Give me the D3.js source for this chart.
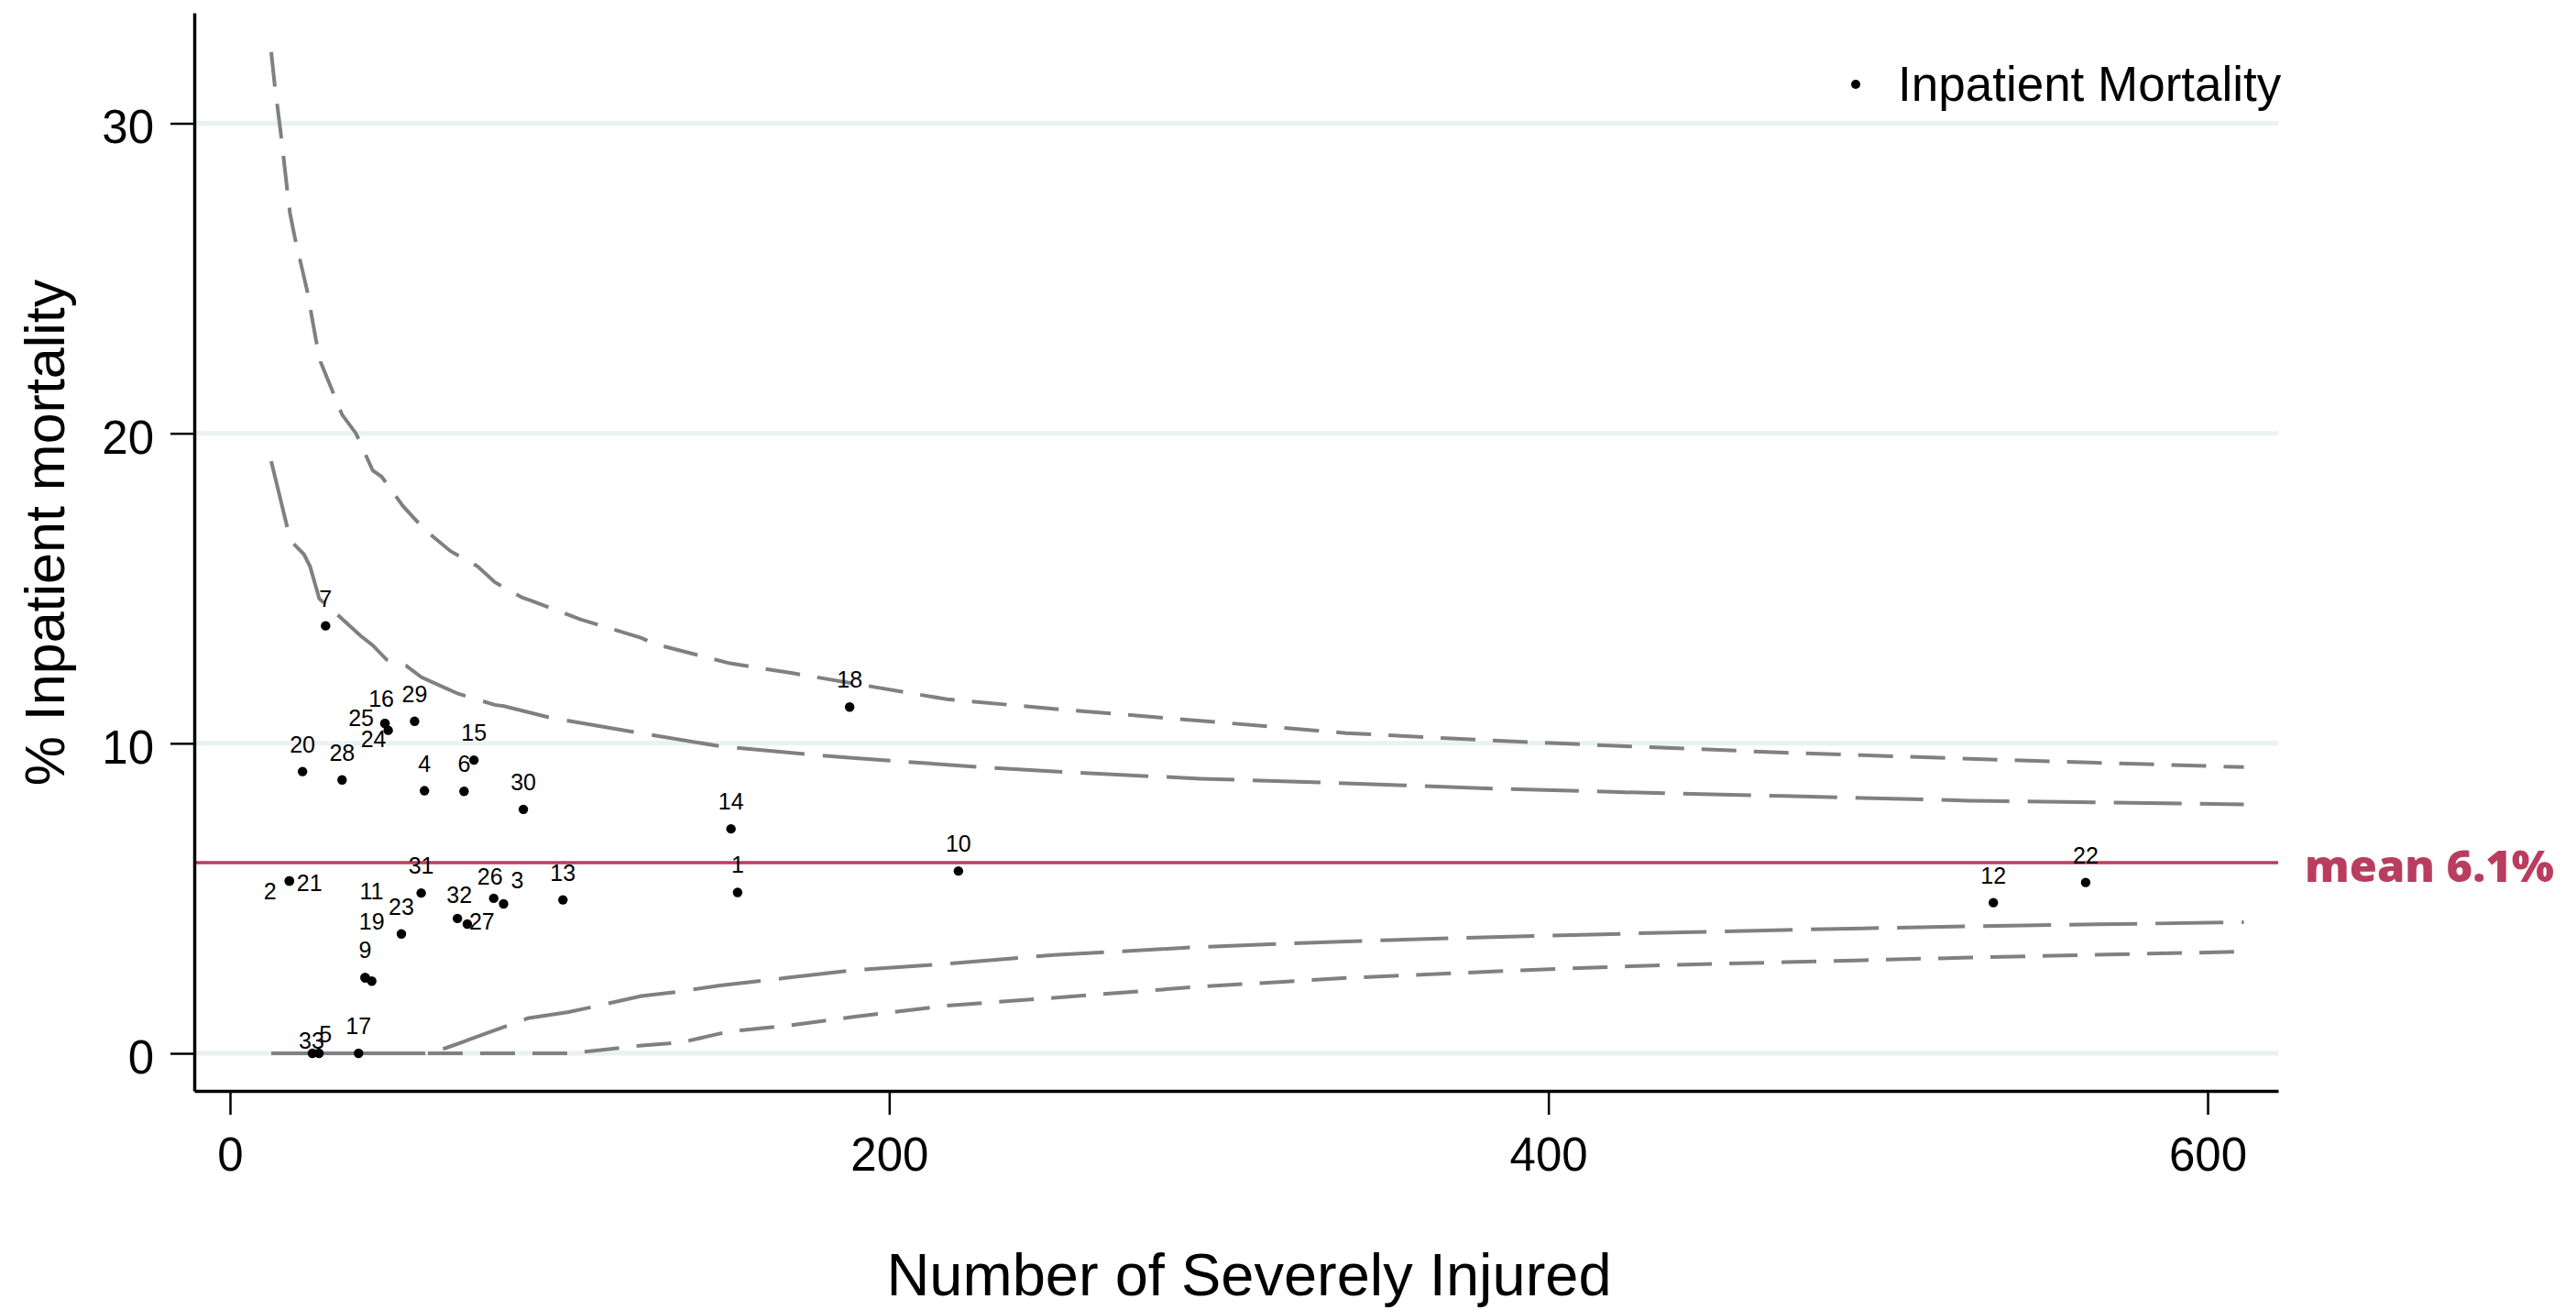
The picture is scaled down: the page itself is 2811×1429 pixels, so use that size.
<!DOCTYPE html>
<html>
<head>
<meta charset="utf-8">
<script src="https://cdn.jsdelivr.net/npm/d3@7"></script>
<style>
  html, body { margin: 0; padding: 0; background: #ffffff; }
  svg { display: block; }
</style>
</head>
<body>
<svg id="chart" width="2811" height="1429"></svg>
<script>
// ---------------- DATA ----------------
const hospitalIds = [1, 2, 3, 4, 5, 6, 7, 9, 10, 11, 12, 13, 14, 15, 16, 17,
                     18, 19, 20, 21, 22, 23, 24, 25, 26, 27, 28, 29, 30, 31, 32, 33];
const severelyInjured = [154, 18, 83, 59, 27, 71, 29, 41, 221, 41, 535, 101, 152, 74, 47, 39,
                         188, 43, 22, 18, 563, 52, 48, 47, 80, 72, 34, 56, 89, 58, 69, 25];
const mortalityPct = [5.19, 5.56, 4.82, 8.47, 0, 8.45, 13.79, 2.44, 5.88, 2.44, 4.86, 4.95, 7.24, 9.46, 10.64, 0,
                      11.17, 2.33, 9.09, 5.56, 5.51, 3.85, 10.42, 10.64, 5.00, 4.17, 8.82, 10.71, 7.87, 5.17, 4.35, 0];

const meanMortality = 6.15;
const meanLabel = "mean 6.1%";

// control limits: [number of severely injured, % mortality]
const upperOuterLimit = [[12.5,32.3],[13.6,31.2],[15.5,29.6],[17.3,27.9],[18.2,27.1],[19.7,26.3],[23.4,24.6],
  [26.1,23.0],[27.5,22.3],[34.0,20.6],[38.2,20.0],[43.3,18.8],[46.0,18.6],[52.5,17.65],[59.0,16.9],[66.9,16.2],
  [72.0,15.9],[75.2,15.7],[80.3,15.2],[88.7,14.7],[91.5,14.6],[106.3,14.0],[124.8,13.4],[129,13.2],[151.7,12.58],
  [170.2,12.27],[192.5,11.87],[217.5,11.42],[254.4,11.07],[294.3,10.73],[338.6,10.33],[382.9,10.09],[427.3,9.89],
  [471.6,9.7],[528,9.5],[611,9.23]];
const upperInnerLimit = [[12.5,19.1],[17.3,17.0],[18.7,16.5],[22.4,16.1],[24.3,15.7],[27.1,14.66],[32.1,14.2],
  [39.6,13.47],[43.3,13.16],[47.5,12.7],[53.5,12.5],[58.1,12.13],[63.7,11.86],[69.2,11.6],[80.3,11.24],[83.1,11.2],
  [97,10.83],[122.9,10.36],[148.9,9.9],[174.9,9.65],[189.7,9.52],[226.7,9.24],[249.9,9.09],[294.3,8.86],[338.6,8.71],
  [382.9,8.54],[427.3,8.41],[471.6,8.3],[528,8.15],[611,8.03]];
const lowerInnerLimit = [[12.5,0],[59.2,0],[65.5,0.17],[84.7,0.91],[90.3,1.13],[102.7,1.33],[110.2,1.5],[116.4,1.65],
  [124.8,1.85],[136.2,1.99],[148.7,2.19],[168.5,2.43],[188.9,2.68],[217.5,2.89],[249.9,3.17],[294.3,3.43],[338.6,3.61],
  [382.9,3.75],[427.3,3.87],[471.6,3.98],[528,4.1],[611,4.23]];
const lowerOuterLimit = [[12.5,0],[102.7,0],[107.7,0.05],[124.8,0.25],[133.1,0.32],[139.3,0.41],[148.7,0.64],
  [154.8,0.74],[170.4,0.91],[189.7,1.18],[217.5,1.54],[249.9,1.79],[294.3,2.15],[338.6,2.43],[382.9,2.64],
  [427.3,2.82],[471.6,2.94],[528,3.09],[611,3.28]];

const xTickValues = [0, 200, 400, 600];
const yTickValues = [0, 10, 20, 30];
const xTitle = "Number of Severely Injured";
const yTitle = "% Inpatient mortality";
const legendText = "Inpatient Mortality";

// label placement (Stata-like marker label positions), separate from data
const defaultLabelPlacement = { dx: 0, dy: -21, anchor: "middle" };
const labelPlacement = {
  25: { dx: -12, dy: 3, anchor: "end" },
  16: { dx: -4, dy: -18, anchor: "middle" },
  24: { dx: -16, dy: 18, anchor: "middle" },
  2:  { dx: -14, dy: 20, anchor: "end" },
  21: { dx: 8, dy: 11, anchor: "start" },
  11: { dx: 7, dy: -85, anchor: "middle" },
  19: { dx: 0, dy: -56, anchor: "middle" },
  32: { dx: 2, dy: -17, anchor: "middle" },
  27: { dx: 2, dy: 6, anchor: "start" },
  26: { dx: -4, dy: -15, anchor: "middle" },
  3:  { dx: 15, dy: -17, anchor: "middle" },
  33: { dx: -1, dy: -5, anchor: "middle" },
  5:  { dx: 7, dy: -12, anchor: "middle" }
};

// ---------------- LAYOUT ----------------
const plotLeft = 212, plotRight = 2486, plotTop = 14, plotBottom = 1190;
const pxPerX = (2409 - 251) / 600;
const pxPerY = (1149 - 134.5) / 30;

const x = d3.scaleLinear()
  .domain([(plotLeft - 251) / pxPerX, (plotRight - 251) / pxPerX])
  .range([plotLeft, plotRight]);
const y = d3.scaleLinear()
  .domain([(1149 - plotBottom) / pxPerY, (1149 - plotTop) / pxPerY])
  .range([plotBottom, plotTop]);

const svg = d3.select("#chart");
svg.append("rect").attr("width", 2811).attr("height", 1429).attr("fill", "#ffffff");

const baseFont = "'Liberation Sans', Arial, Helvetica, sans-serif";
const narrowFont = "'Liberation Sans Narrow', 'Arial Narrow', 'Liberation Sans', Arial, sans-serif";

// gridlines
svg.append("g").selectAll("line").data(yTickValues).join("line")
  .attr("x1", plotLeft).attr("x2", plotRight)
  .attr("y1", d => y(d)).attr("y2", d => y(d))
  .attr("stroke", "#eaf1f3").attr("stroke-width", 5);

// control limit curves
const line = d3.line().x(d => x(d[0])).y(d => y(d[1]));
const curves = [
  { data: upperOuterLimit, dash: "38,19" },
  { data: upperInnerLimit, dash: "74,20" },
  { data: lowerInnerLimit, dash: "74,20" },
  { data: lowerOuterLimit, dash: "38,19" }
];
svg.append("g").selectAll("path").data(curves).join("path")
  .attr("d", d => line(d.data))
  .attr("fill", "none")
  .attr("stroke", "#808080")
  .attr("stroke-width", 4)
  .attr("stroke-dasharray", d => d.dash);

// mean line
svg.append("line")
  .attr("x1", plotLeft).attr("x2", plotRight)
  .attr("y1", y(meanMortality)).attr("y2", y(meanMortality))
  .attr("stroke", "#b93d5f").attr("stroke-width", 3.5);

svg.append("text")
  .attr("x", 2515).attr("y", y(meanMortality) + 21)
  .attr("font-family", "'Open Sans', Lato, sans-serif")
  .attr("font-weight", 800)
  .attr("font-size", 48)
  .attr("fill", "#b93d5f")
  .attr("textLength", 272)
  .attr("lengthAdjust", "spacingAndGlyphs")
  .text(meanLabel);

// points
const points = hospitalIds.map((id, i) => ({ id, n: severelyInjured[i], m: mortalityPct[i] }));
svg.append("g").selectAll("circle").data(points).join("circle")
  .attr("cx", d => x(d.n)).attr("cy", d => y(d.m)).attr("r", 5.2)
  .attr("fill", "#000000");

svg.append("g").selectAll("text").data(points).join("text")
  .attr("x", d => x(d.n) + (labelPlacement[d.id] || defaultLabelPlacement).dx)
  .attr("y", d => y(d.m) + (labelPlacement[d.id] || defaultLabelPlacement).dy)
  .attr("text-anchor", d => (labelPlacement[d.id] || defaultLabelPlacement).anchor)
  .attr("font-family", narrowFont)
  .attr("font-stretch", "condensed")
  .attr("font-size", 25)
  .attr("fill", "#000000")
  .text(d => d.id);

// axes
const xAxis = d3.axisBottom(x).tickValues(xTickValues).tickSize(26).tickSizeOuter(0).tickFormat(d3.format("d"));
const gx = svg.append("g").attr("transform", `translate(0,${plotBottom})`).call(xAxis);
gx.select(".domain").attr("stroke", "#000").attr("stroke-width", 3.5);
gx.selectAll(".tick line").attr("stroke", "#000").attr("stroke-width", 2.5);
gx.selectAll(".tick text")
  .attr("y", 87).attr("dy", null)
  .attr("font-family", baseFont).attr("font-size", 51).attr("fill", "#000");

const yAxis = d3.axisLeft(y).tickValues(yTickValues).tickSize(26).tickSizeOuter(0).tickFormat(d3.format("d"));
const gy = svg.append("g").attr("transform", `translate(${plotLeft},0)`).call(yAxis);
gy.select(".domain").attr("stroke", "#000").attr("stroke-width", 3.5);
gy.selectAll(".tick line").attr("stroke", "#000").attr("stroke-width", 2.5);
gy.selectAll(".tick text")
  .attr("x", -44).attr("dy", "0.42em")
  .attr("font-family", baseFont).attr("font-size", 51).attr("fill", "#000");

// axis titles
svg.append("text")
  .attr("x", 1363).attr("y", 1413)
  .attr("text-anchor", "middle")
  .attr("font-family", baseFont).attr("font-size", 65).attr("fill", "#000")
  .text(xTitle);

svg.append("text")
  .attr("transform", "translate(70,581) rotate(-90)")
  .attr("text-anchor", "middle")
  .attr("font-family", baseFont).attr("font-size", 61).attr("fill", "#000")
  .text(yTitle);

// legend
svg.append("circle").attr("cx", 2025).attr("cy", 92).attr("r", 5).attr("fill", "#000");
svg.append("text")
  .attr("x", 2071).attr("y", 110)
  .attr("font-family", baseFont).attr("font-size", 53).attr("fill", "#000")
  .text(legendText);
</script>
</body>
</html>
